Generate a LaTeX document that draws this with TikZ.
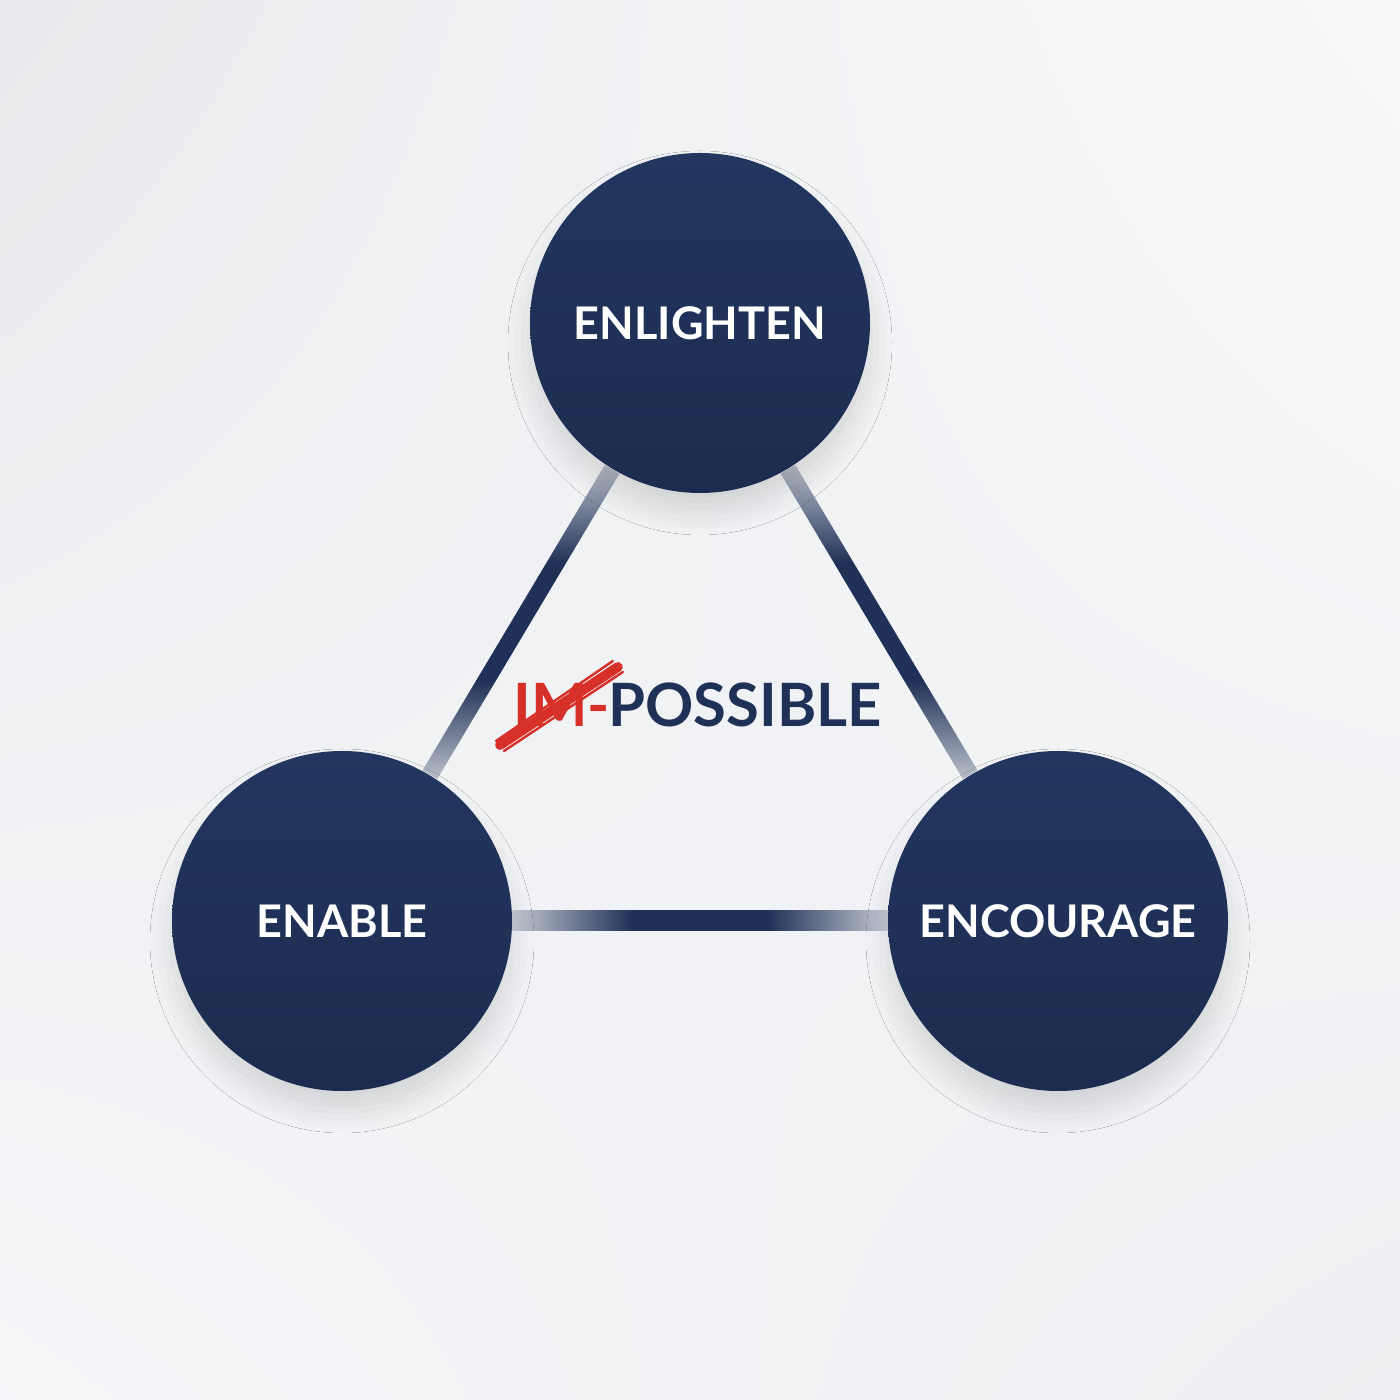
\documentclass[tikz,border=0pt]{standalone}
\usepackage{fontspec}
\setmainfont{Lato}
\usetikzlibrary{calc,positioning,shadows.blur,fadings,shadings,backgrounds}

\definecolor{navy}{HTML}{1F3157}
\definecolor{navytop}{HTML}{22365F}
\definecolor{navybot}{HTML}{1C2C50}
\definecolor{bgcol}{HTML}{F2F4F7}
\definecolor{strikered}{HTML}{D63029}

% bars: dark in the middle, pale at both ends (path is fitted to 25bp--75bp)
\pgfdeclarehorizontalshading{barshade}{100bp}{color(0bp)=(navy!22!bgcol); color(25bp)=(navy!22!bgcol); color(41bp)=(navy); color(59bp)=(navy); color(75bp)=(navy!22!bgcol); color(100bp)=(navy!22!bgcol)}
\pgfdeclareverticalshading{barfadev}{100bp}{color(0bp)=(pgftransparent!78); color(25bp)=(pgftransparent!78); color(41bp)=(pgftransparent!0); color(59bp)=(pgftransparent!0); color(75bp)=(pgftransparent!78); color(100bp)=(pgftransparent!78)}
\pgfdeclarefading{fade ends v}{\pgfuseshading{barfadev}}

\tikzset{
  stage/.style={circle, minimum size=3.4cm, inner sep=0pt, shading=axis,
    top color=navytop, bottom color=navybot, text=white,
    font=\fontsize{12.8}{15}\selectfont\bfseries,
    blur shadow={shadow xshift=0pt, shadow yshift=-0.2cm, shadow blur radius=0.22cm, shadow opacity=12}},
  bar/.style={line width=0.17cm, navy, path fading=fade ends v},
  word/.style={inner sep=0pt, font=\fontsize{17}{20}\selectfont\bfseries},
  strike/.style={strikered, line width=2.8pt, line cap=round},
  bristle/.style={strikered, line width=0.7pt, line cap=round}
}

\begin{document}
\begin{tikzpicture}
        \node[stage] (enl) at (7,10.77) {ENLIGHTEN};
        \node[stage] (ena) at (3.42,4.79) {ENABLE};
        \node[stage] (enc) at (10.58,4.79) {ENCOURAGE};

        \begin{scope}[on background layer]
          % background
          \shade[upper left=bgcol!92!gray, upper right=bgcol!50!white, lower left=bgcol!80!white, lower right=bgcol!95!gray] (0,0) rectangle (14,14);
          % connectors
          \draw[bar] (enl.239) -- (ena.59);
          \draw[bar] (enl.301) -- (enc.121);
          \shade[shading=barshade] ([yshift=-0.1cm]ena.east) rectangle ([yshift=0.1cm]enc.west);
        \end{scope}

        % center word
        \node[word, strikered, anchor=base west] (im) at (5.13,6.73) {IM-};
        \node[word, navy, anchor=base west] (pos) at ([xshift=-0.03cm]im.base east) {POSSIBLE};
        \draw[strike] ($(im.base west)+(-0.13,-0.18)$) -- ($(im.base east)+(0.07,0.60)$);
        \draw[bristle] ($(im.base west)+(-0.17,-0.14)$) -- ($(im.base east)+(0.02,0.66)$);
        \draw[bristle] ($(im.base west)+(-0.09,-0.24)$) -- ($(im.base east)+(0.12,0.55)$);
\end{tikzpicture}
\end{document}
